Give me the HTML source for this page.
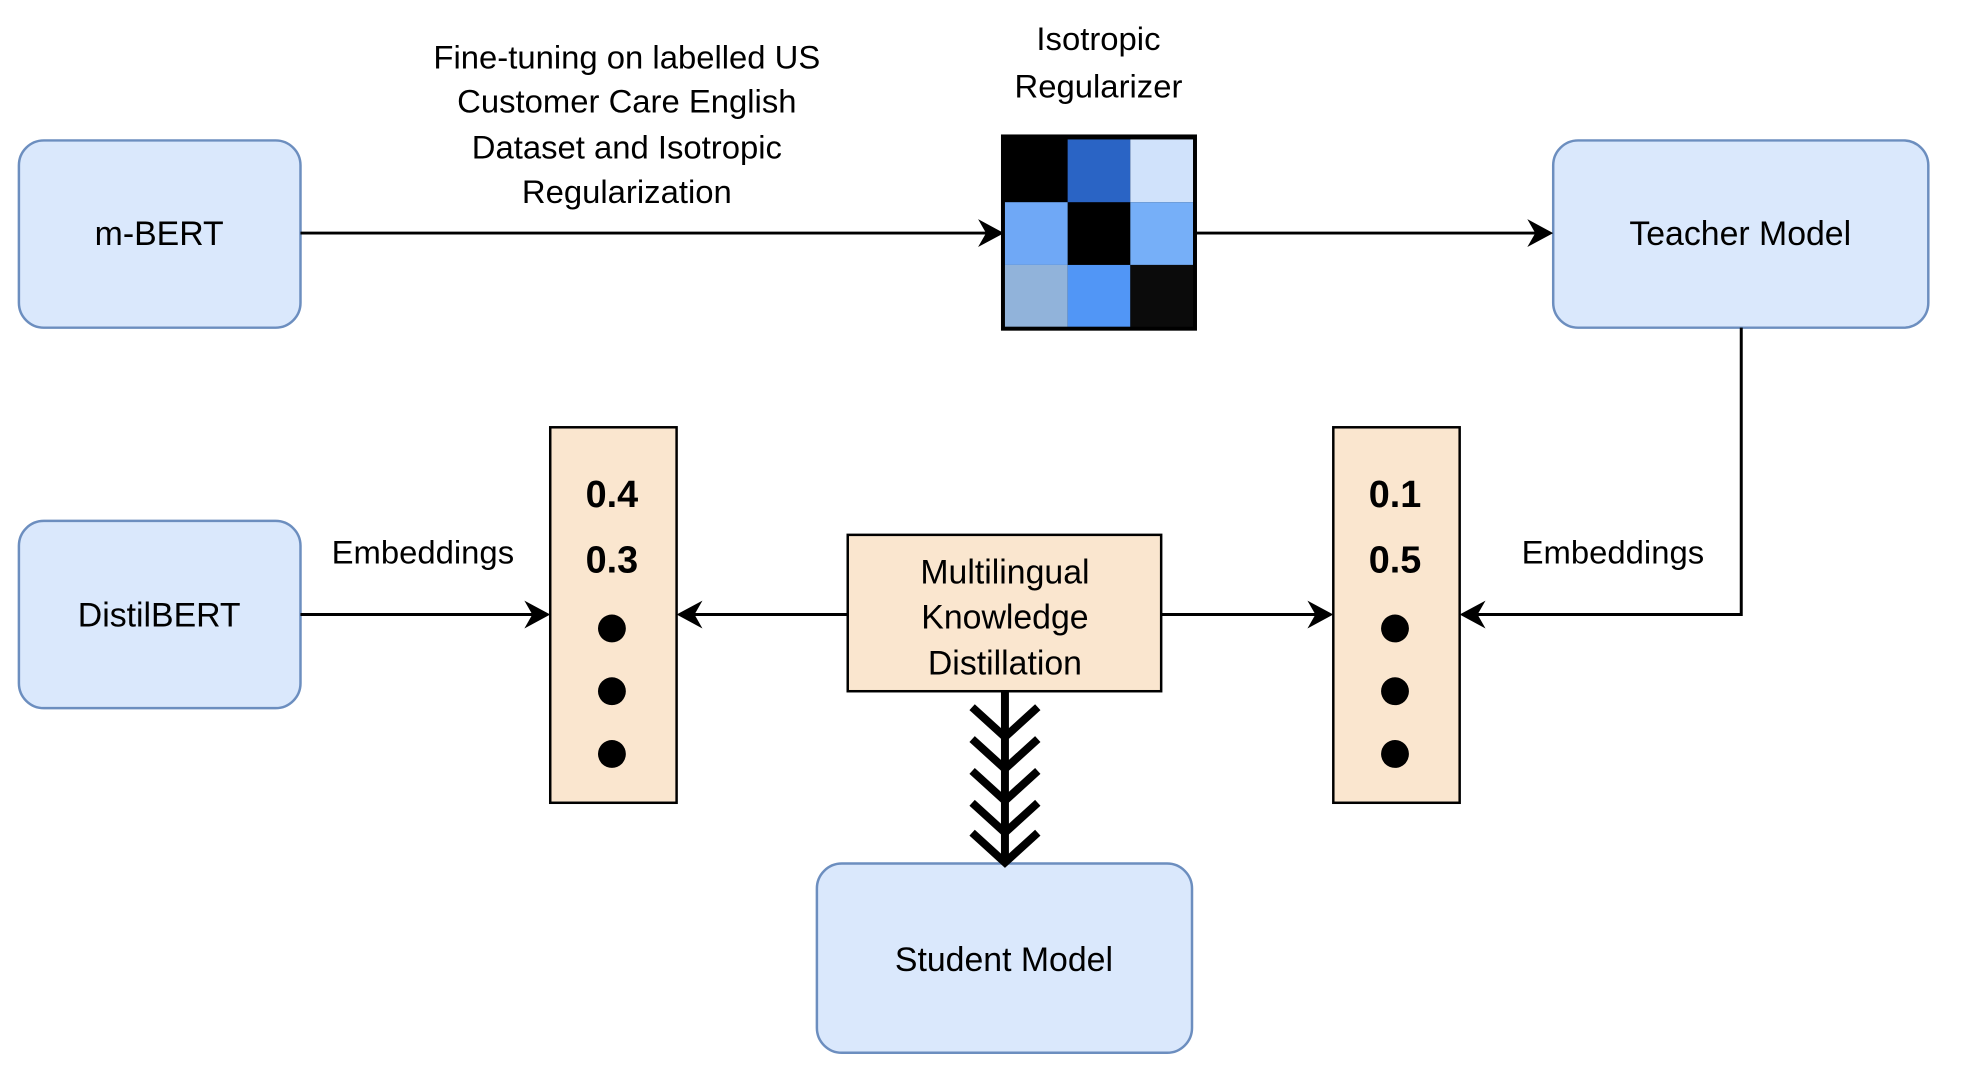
<!DOCTYPE html>
<html><head><meta charset="utf-8"><style>
html,body{margin:0;padding:0;background:#fff;}
svg{display:block;}
text{font-family:"Liberation Sans",Arial,sans-serif;fill:#000;}
</style></head><body>
<svg width="1961" height="1077" viewBox="0 0 1961 1077" xmlns="http://www.w3.org/2000/svg">
<g transform="scale(0.995 0.996)">
<g fill="#dae8fc" stroke="#6c8ebf" stroke-width="2.5">
<rect x="19" y="141" width="283" height="188" rx="25"/>
<rect x="1561" y="141" width="377" height="188" rx="25"/>
<rect x="19" y="523" width="283" height="188" rx="25"/>
<rect x="821" y="867" width="377" height="190" rx="25"/>
</g>
<g font-size="34" text-anchor="middle">
<text x="160" y="246">m-BERT</text>
<text x="1749" y="246">Teacher Model</text>
<text x="160" y="629">DistilBERT</text>
<text x="1009" y="975">Student Model</text>
</g>
<g font-size="33" text-anchor="middle">
<text x="630" y="69">Fine-tuning on labelled US</text>
<text x="630" y="113">Customer Care English</text>
<text x="630" y="159">Dataset and Isotropic</text>
<text x="630" y="204">Regularization</text>
<text x="1104" y="50">Isotropic</text>
<text x="1104" y="98">Regularizer</text>
<text x="425" y="566">Embeddings</text>
<text x="1621" y="566">Embeddings</text>
</g>
<rect x="1006" y="135" width="197" height="197" fill="#000"/>
<rect x="1073" y="140" width="63" height="63" fill="#2a64c5"/>
<rect x="1136" y="140" width="63" height="63" fill="#d0e2fb"/>
<rect x="1010" y="203" width="63" height="63" fill="#6fa8f6"/>
<rect x="1136" y="203" width="63" height="63" fill="#76aff8"/>
<rect x="1010" y="266" width="63" height="62" fill="#91b3da"/>
<rect x="1073" y="266" width="63" height="62" fill="#5196f6"/>
<rect x="1136" y="266" width="63" height="62" fill="#0b0b0b"/>
<g stroke="#000" stroke-width="3" fill="none">
<line x1="302" y1="234" x2="996" y2="234"/>
<line x1="1203" y1="234" x2="1551" y2="234"/>
<polyline points="1750,329 1750,617 1478,617"/>
<line x1="302" y1="617" x2="543" y2="617"/>
<line x1="852" y1="617" x2="690" y2="617"/>
<line x1="1167" y1="617" x2="1330" y2="617"/>
</g>
<g fill="#000">
<path d="M1009,234 L983,220 L991,234 L983,248Z"/>
<path d="M1561,234 L1535,220 L1543,234 L1535,248Z"/>
<path d="M553,617 L527,603 L535,617 L527,631Z"/>
<path d="M680,617 L706,603 L698,617 L706,631Z"/>
<path d="M1340,617 L1314,603 L1322,617 L1314,631Z"/>
<path d="M1467,617 L1493,603 L1485,617 L1493,631Z"/>
</g>
<g fill="#fae6cf" stroke="#000" stroke-width="2.5">
<rect x="553" y="429" width="127" height="377"/>
<rect x="1340" y="429" width="127" height="377"/>
<rect x="852" y="537" width="315" height="157"/>
</g>
<g font-size="34" text-anchor="middle">
<text x="1010" y="586">Multilingual</text>
<text x="1010" y="631">Knowledge</text>
<text x="1010" y="677">Distillation</text>
</g>
<g font-size="38" font-weight="bold" text-anchor="middle">
<text x="615" y="509">0.4</text>
<text x="615" y="575">0.3</text>
<text x="1402" y="509">0.1</text>
<text x="1402" y="575">0.5</text>
</g>
<g fill="#000">
<circle cx="615" cy="631" r="14"/><circle cx="615" cy="694" r="14"/><circle cx="615" cy="757" r="14"/>
<circle cx="1402" cy="631" r="14"/><circle cx="1402" cy="694" r="14"/><circle cx="1402" cy="757" r="14"/>
</g>
<g stroke="#000" stroke-width="8" fill="none">
<line x1="1010" y1="694" x2="1010" y2="862"/>
<polyline points="977,710 1010,740 1043,710"/>
<polyline points="977,742 1010,772 1043,742"/>
<polyline points="977,774 1010,804 1043,774"/>
<polyline points="977,806 1010,836 1043,806"/>
<polyline points="977,836 1010,866 1043,836"/>
</g>
</g>
</svg>
</body></html>
